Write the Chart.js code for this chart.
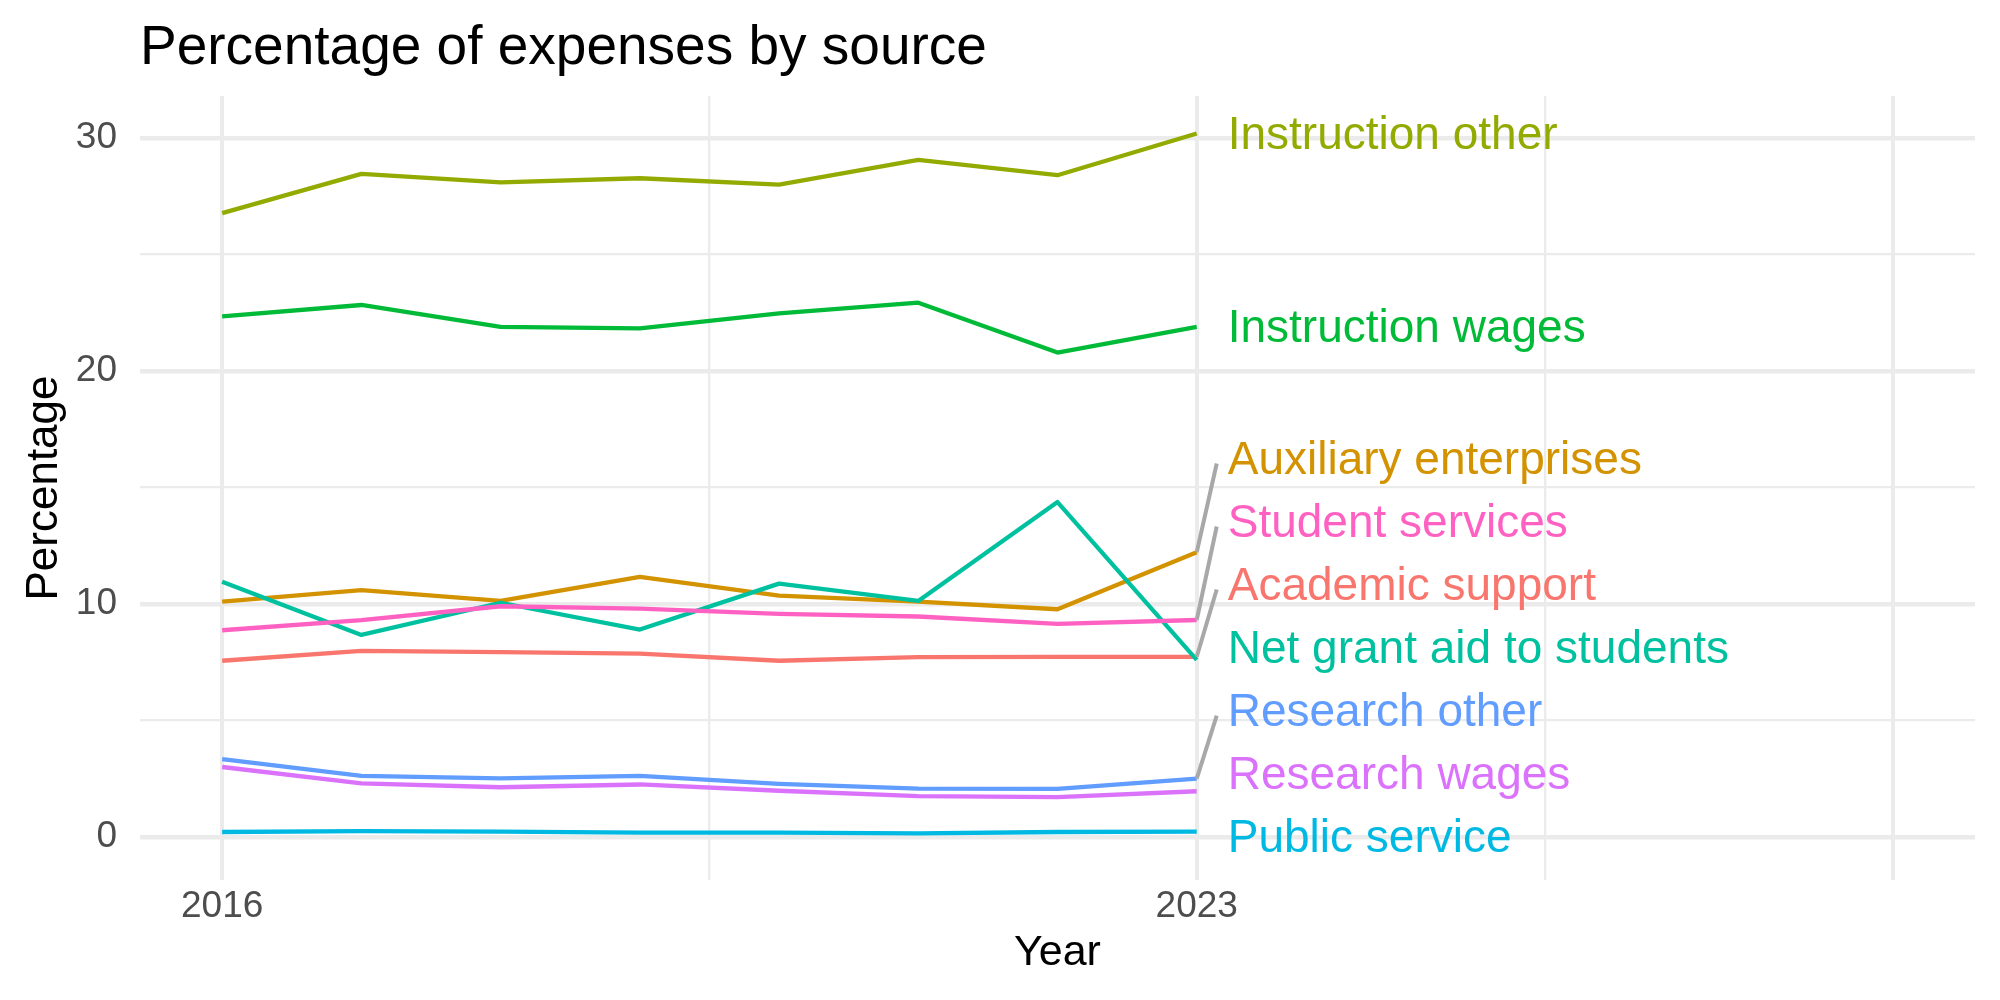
<!DOCTYPE html>
<html lang="en">
<head>
<meta charset="UTF-8" />
<title>Percentage of expenses by source</title>
<script src="https://cdn.jsdelivr.net/npm/chart.js"></script>
<style>
    html, body { margin: 0; padding: 0; background: #fff; }
</style>
</head>
<body>
<canvas id="myChart" width="2000" height="1000"></canvas>

<script>
    // data
    const years = [2016, 2017, 2018, 2019, 2020, 2021, 2022, 2023];
    const academicSupport = [7.56, 7.98, 7.93, 7.87, 7.56, 7.72, 7.73, 7.73];
    const auxiliaryEnterprises = [10.1, 10.59, 10.13, 11.16, 10.36, 10.1, 9.77, 12.22];
    const instructionOther = [26.77, 28.46, 28.09, 28.27, 28.0, 29.06, 28.4, 30.19];
    const instructionWages = [22.34, 22.83, 21.89, 21.83, 22.47, 22.93, 20.79, 21.89];
    const netGrantAid = [10.95, 8.67, 10.05, 8.9, 10.87, 10.13, 14.37, 7.6];
    const publicService = [0.21, 0.25, 0.23, 0.18, 0.18, 0.15, 0.21, 0.23];
    const researchOther = [3.34, 2.62, 2.51, 2.62, 2.28, 2.07, 2.06, 2.5];
    const researchWages = [3.0, 2.3, 2.13, 2.25, 1.98, 1.75, 1.71, 1.96];
    const studentServices = [8.87, 9.3, 9.9, 9.8, 9.57, 9.46, 9.14, 9.31];

    const seriesNames = ['Academic support', 'Auxiliary enterprises', 'Instruction other', 'Instruction wages',
        'Net grant aid to students', 'Public service', 'Research other', 'Research wages', 'Student services'];
    const seriesValues = [academicSupport, auxiliaryEnterprises, instructionOther, instructionWages,
        netGrantAid, publicService, researchOther, researchWages, studentServices];

    const yTicks = [0, 5, 10, 15, 20, 25, 30];
    const xTicks = [2016, 2019.5, 2023, 2025.5, 2028];
    const xLabelled = [2016, 2023];

    const chartTitle = 'Percentage of expenses by source';
    const palette = ['#F8766D', '#D39200', '#93AA00', '#00BA38', '#00C19F', '#00B9E3', '#619CFF', '#DB72FB', '#FF61C3'];
    const FONT = '"Liberation Sans", Arial, Helvetica, sans-serif';

    // ggplot draws the last group on top, chart.js draws dataset 0 on top
    const datasets = seriesNames.map(function (name, i) {
        return {
            label: name,
            data: years.map(function (yr, j) { return { x: yr, y: seriesValues[i][j] }; }),
            borderColor: palette[i],
            backgroundColor: palette[i],
            borderWidth: 4.3,
            borderJoinStyle: 'round',
            pointRadius: 0,
            tension: 0,
            fill: false
        };
    }).reverse();

    // title + direct labels at the end of each line (simple repel, bottom up)
    const endLabels = {
        id: 'endLabels',
        afterDatasetsDraw(chart) {
            const ctx = chart.ctx;
            const x = chart.scales.x;
            const y = chart.scales.y;
            const area = chart.chartArea;
            ctx.save();

            ctx.font = '55px ' + FONT;
            ctx.fillStyle = '#000';
            ctx.textAlign = 'left';
            ctx.textBaseline = 'alphabetic';
            ctx.fillText(chartTitle, area.left, 64);

            const last = years.length - 1;
            const items = chart.data.datasets.map(function (ds) {
                return {
                    name: ds.label,
                    color: ds.borderColor,
                    px: x.getPixelForValue(ds.data[last].x),
                    py: y.getPixelForValue(ds.data[last].y)
                };
            });
            items.sort(function (a, b) { return b.py - a.py; });
            const gap = 63;
            items.forEach(function (it, i) {
                it.ly = i === 0 ? it.py + 5 : Math.min(it.py, items[i - 1].ly - gap);
            });

            const lx = x.getPixelForValue(years[last]) + 31;
            ctx.font = '46px ' + FONT;
            items.forEach(function (it) {
                if (Math.abs(it.ly - it.py) > 40) {
                    ctx.strokeStyle = '#A8A8A8';
                    ctx.lineWidth = 4;
                    ctx.lineCap = 'butt';
                    ctx.beginPath();
                    ctx.moveTo(it.px, it.py);
                    ctx.lineTo(lx - 11, it.ly + 5);
                    ctx.stroke();
                }
                ctx.fillStyle = it.color;
                ctx.fillText(it.name, lx, it.ly + 15);
            });
            ctx.restore();
        }
    };

    const config = {
        type: 'line',
        data: { datasets: datasets },
        options: {
            responsive: false,
            animation: false,
            devicePixelRatio: 1,
            layout: { padding: { left: 0, right: 25, top: 96, bottom: 0 } },
            plugins: {
                legend: { display: false },
                tooltip: { enabled: false },
                title: { display: false }
            },
            scales: {
                x: {
                    type: 'linear',
                    min: 2015.41,
                    max: 2028.59,
                    afterBuildTicks: function (axis) {
                        axis.ticks = xTicks.map(function (v) { return { value: v }; });
                    },
                    afterFit: function (axis) { axis.height = 120; },
                    ticks: {
                        autoSkip: false,
                        maxRotation: 0,
                        padding: 5,
                        color: '#4D4D4D',
                        font: { family: FONT, size: 37 },
                        callback: function (v) { return xLabelled.indexOf(v) >= 0 ? String(v) : ''; }
                    },
                    grid: {
                        color: '#EBEBEB',
                        drawTicks: false,
                        lineWidth: function (c) {
                            return (c.tick && (c.tick.value === 2019.5 || c.tick.value === 2025.5)) ? 2.3 : 4;
                        }
                    },
                    border: { display: false },
                    title: {
                        display: true,
                        text: 'Year',
                        color: '#000',
                        font: { family: FONT, size: 43 },
                        padding: { top: 0, bottom: 21 }
                    }
                },
                y: {
                    min: -1.85,
                    max: 31.8,
                    afterBuildTicks: function (axis) {
                        axis.ticks = yTicks.map(function (v) { return { value: v }; });
                    },
                    afterFit: function (axis) { axis.width = 140; },
                    ticks: {
                        padding: 23,
                        color: '#4D4D4D',
                        font: { family: FONT, size: 37 },
                        callback: function (v) { return v % 10 === 0 ? String(v) : ''; }
                    },
                    grid: {
                        color: '#EBEBEB',
                        drawTicks: false,
                        lineWidth: function (c) {
                            return (c.tick && c.tick.value % 10 !== 0) ? 2.3 : 4.5;
                        }
                    },
                    border: { display: false },
                    title: {
                        display: true,
                        text: 'Percentage',
                        color: '#000',
                        font: { family: FONT, size: 44 },
                        padding: { top: 18, bottom: 0 }
                    }
                }
            }
        },
        plugins: [endLabels]
    };

    const myChart = new Chart(document.getElementById('myChart'), config);
</script>
</body>
</html>
